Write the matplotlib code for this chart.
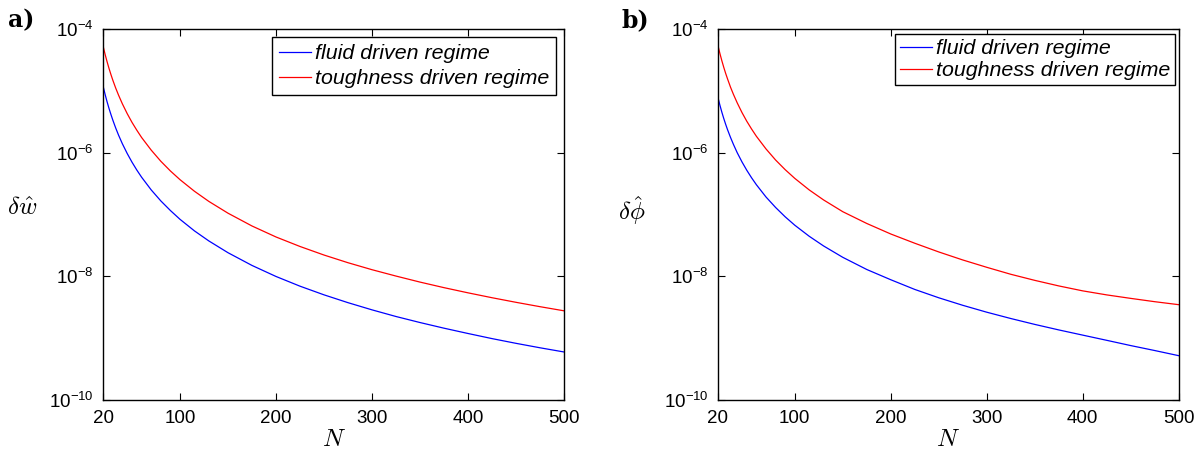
import matplotlib
matplotlib.use("Agg")
import matplotlib.pyplot as plt
from matplotlib.ticker import FixedLocator, LogFormatterSciNotation, NullLocator

plt.rcParams['font.family'] = ['Liberation Sans', 'DejaVu Sans']
plt.rcParams['mathtext.fontset'] = 'cm'

# ---- data ----
N = [20, 22, 24, 26, 28, 30, 33, 36, 40, 45, 50, 55, 60, 70, 80, 90, 100, 115, 130, 150,
     175, 200, 225, 250, 275, 300, 325, 350, 375, 400, 425, 450, 475, 500]

w_fluid = [1.17e-5, 8.73e-6, 6.68e-6, 5.23e-6, 4.17e-6, 3.37e-6, 2.51e-6, 1.92e-6, 1.39e-6,
           9.70e-7, 7.02e-7, 5.24e-7, 4.01e-7, 2.50e-7, 1.66e-7, 1.16e-7, 8.36e-8, 5.44e-8,
           3.74e-8, 2.41e-8, 1.50e-8, 9.95e-9, 6.93e-9, 5.02e-9, 3.75e-9, 2.87e-9, 2.24e-9,
           1.79e-9, 1.45e-9, 1.19e-9, 9.84e-10, 8.25e-10, 6.99e-10, 5.98e-10]
w_tough = [5.20e-5, 3.88e-5, 2.97e-5, 2.32e-5, 1.845e-5, 1.49e-5, 1.11e-5, 8.51e-6, 6.15e-6,
           4.28e-6, 3.09e-6, 2.31e-6, 1.76e-6, 1.10e-6, 7.27e-7, 5.06e-7, 3.66e-7, 2.38e-7,
           1.63e-7, 1.05e-7, 6.52e-8, 4.33e-8, 3.04e-8, 2.21e-8, 1.66e-8, 1.28e-8, 1.01e-8,
           8.07e-9, 6.56e-9, 5.41e-9, 4.51e-9, 3.80e-9, 3.23e-9, 2.77e-9]

phi_fluid = [7.75e-6, 5.85e-6, 4.52e-6, 3.57e-6, 2.87e-6, 2.34e-6, 1.77e-6, 1.37e-6, 1.00e-6,
             7.08e-7, 5.19e-7, 3.92e-7, 3.03e-7, 1.92e-7, 1.30e-7, 9.17e-8, 6.71e-8, 4.45e-8,
             3.10e-8, 2.03e-8, 1.29e-8, 8.81e-9, 6.14e-9, 4.50e-9, 3.40e-9, 2.63e-9, 2.08e-9,
             1.67e-9, 1.36e-9, 1.12e-9, 9.23e-10, 7.59e-10, 6.31e-10, 5.21e-10]
phi_tough = [5.37e-5, 4.01e-5, 3.07e-5, 2.40e-5, 1.91e-5, 1.55e-5, 1.15e-5, 8.83e-6, 6.40e-6,
             4.45e-6, 3.22e-6, 2.41e-6, 1.84e-6, 1.15e-6, 7.61e-7, 5.31e-7, 3.84e-7, 2.50e-7,
             1.72e-7, 1.11e-7, 7.16e-8, 4.84e-8, 3.43e-8, 2.48e-8, 1.84e-8, 1.40e-8, 1.08e-8,
             8.61e-9, 7.00e-9, 5.82e-9, 5.01e-9, 4.40e-9, 3.89e-9, 3.48e-9]

x_ticks = [20, 100, 200, 300, 400, 500]
y_ticks = [1e-10, 1e-8, 1e-6, 1e-4]
labels = ['fluid driven regime', 'toughness driven regime']

fig = plt.figure(figsize=(12.02, 4.53), dpi=100)
W, H = 1202, 453
ax_a = fig.add_axes([103.2 / W, 1 - 400 / H, (564 - 103.2) / W, (400 - 29) / H])
ax_b = fig.add_axes([718 / W, 1 - 400 / H, (1178.7 - 718) / W, (400 - 29) / H])

panels = [
    (ax_a, w_fluid, w_tough, r'$\delta\hat{w}$', (0.9826, 0.9776), (-0.176, 0.52), 0.27, 0.33),
    (ax_b, phi_fluid, phi_tough, r'$\delta\hat{\phi}$', (0.992, 0.9865), (-0.187, 0.512), 0.15, 0.24),
]

for ax, yf, yt, ylab, anchor, lab_xy, lspace, bpad in panels:
    ax.plot(N, yf, color='#0000ff', lw=0.9, label=labels[0])
    ax.plot(N, yt, color='#ff0000', lw=0.9, label=labels[1])
    ax.set_yscale('log')
    ax.set_xlim(20, 500)
    ax.set_ylim(1e-10, 1e-4)
    ax.xaxis.set_major_locator(FixedLocator(x_ticks))
    ax.yaxis.set_major_locator(FixedLocator(y_ticks))
    ax.yaxis.set_major_formatter(LogFormatterSciNotation())
    ax.yaxis.set_minor_locator(NullLocator())
    ax.xaxis.set_minor_locator(NullLocator())
    ax.tick_params(direction='in', length=5, width=0.8, top=True, right=True,
                   labelsize=13.5, pad=7)
    for sp in ax.spines.values():
        sp.set_linewidth(1.0)
    ax.set_xlabel('$N$', fontsize=18, labelpad=0)
    ax.set_ylabel(ylab, fontsize=18, rotation=0, va='center', ha='center')
    ax.yaxis.set_label_coords(*lab_xy)
    leg = ax.legend(loc='upper right', bbox_to_anchor=anchor,
                    prop={'style': 'italic', 'size': 15.4},
                    frameon=True, fancybox=False, edgecolor='black', framealpha=1,
                    handlelength=1.5, handletextpad=0.17, borderpad=bpad,
                    labelspacing=lspace, borderaxespad=0)
    leg.get_frame().set_linewidth(1.0)

fig.text(8 / W, 1 - 20 / H, 'a)', fontsize=17, fontweight='bold', family='DejaVu Serif', va='center')
fig.text(622 / W, 1 - 20 / H, 'b)', fontsize=17, fontweight='bold', family='DejaVu Serif', va='center')

fig.savefig('out.png', dpi=100)
